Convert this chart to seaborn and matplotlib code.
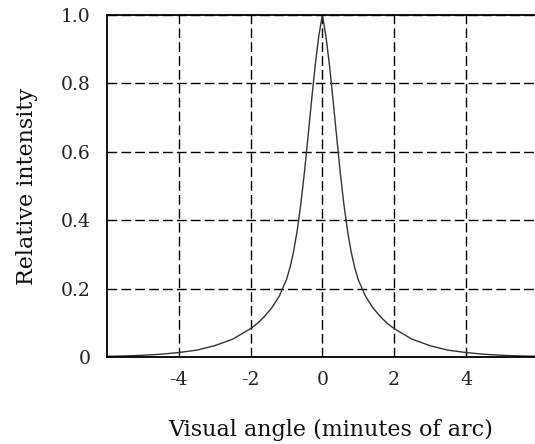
import numpy as np
import pandas as pd
import matplotlib
matplotlib.use("Agg")
import matplotlib.pyplot as plt
import seaborn as sns

# Values (right half, mirrored for the left)
half_angle = [0.0, 0.1, 0.2, 0.3, 0.4, 0.5, 0.6, 0.7, 0.8, 0.9, 1.0, 1.2, 1.4,
              1.6, 1.8, 2.0, 2.5, 3.0, 3.5, 4.0, 4.5, 5.0, 5.5, 6.0]
half_intensity = [1.0, 0.938, 0.852, 0.750, 0.643, 0.539, 0.447, 0.370, 0.309,
                  0.262, 0.226, 0.178, 0.145, 0.120, 0.099, 0.083, 0.052, 0.033,
                  0.020, 0.013, 0.008, 0.005, 0.003, 0.002]

x_ticks = [-4, -2, 0, 2, 4]
y_ticks = [0, 0.2, 0.4, 0.6, 0.8, 1.0]
y_tick_labels = ["0", "0.2", "0.4", "0.6", "0.8", "1.0"]

angle = [-a for a in half_angle[::-1]] + half_angle[1:]
intensity = half_intensity[::-1] + half_intensity[1:]
df = pd.DataFrame({"angle": angle, "intensity": intensity})

sns.set_theme(style="white")
plt.rcParams["font.family"] = ["DejaVu Serif"]

fig = plt.figure(figsize=(5.35, 4.44), dpi=100)
ax = fig.add_axes([0.2, 0.196, 0.805, 0.770])

sns.lineplot(data=df, x="angle", y="intensity", ax=ax, color="#333333",
             linewidth=1.0, sort=False)

ax.set_xlim(-6, 6)
ax.set_ylim(0, 1.0)
ax.set_xticks(x_ticks)
ax.set_xticklabels([str(t) for t in x_ticks])
ax.set_yticks(y_ticks)
ax.set_yticklabels(y_tick_labels)
ax.tick_params(axis="both", length=0, labelsize=13.5, colors="#222222")
ax.tick_params(axis="x", pad=10)
ax.tick_params(axis="y", pad=12)

# dashed grid at every tick
ax.grid(True, color="black", linestyle=(0, (7, 3)), linewidth=1.0)
for s in ax.spines.values():
    s.set_color("black")
    s.set_linewidth(1.3)

ax.set_xlabel("Visual angle (minutes of arc)", fontsize=16, color="#111111")
ax.xaxis.set_label_coords(0.52, -0.18)
ax.set_ylabel("Relative intensity", fontsize=16, labelpad=16, color="#111111")

fig.savefig("out.png", dpi=100)
